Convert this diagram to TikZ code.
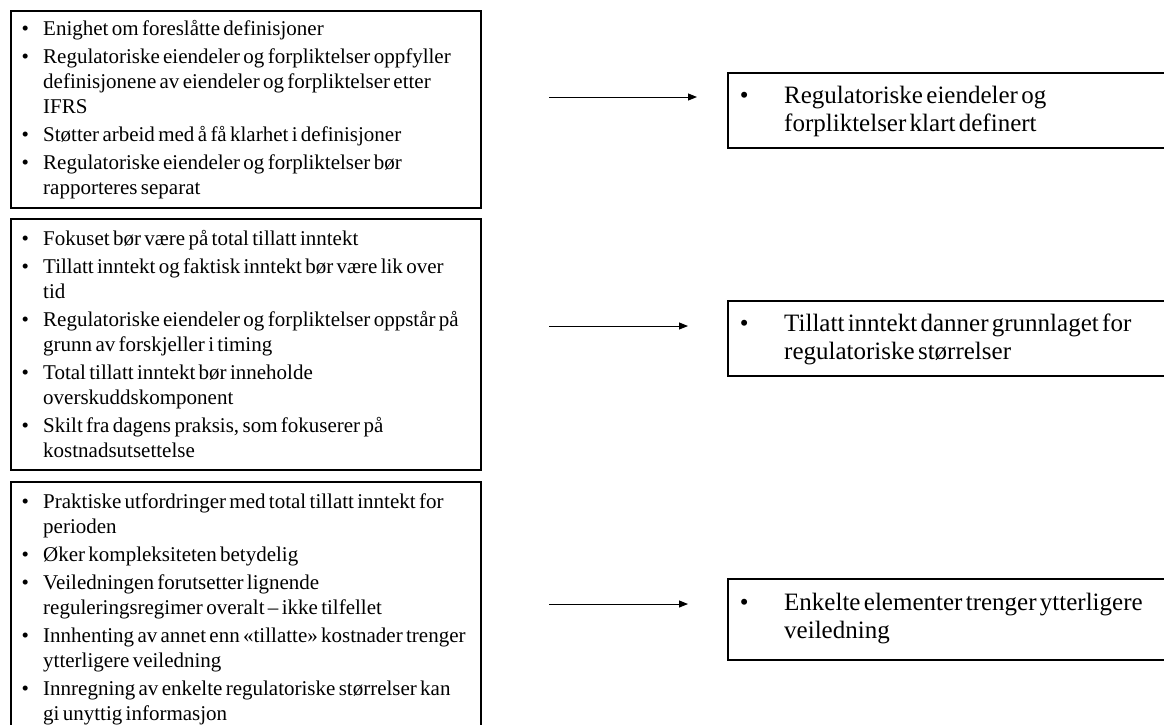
\documentclass[tikz,border=0pt]{standalone}
\usepackage{fontspec}
\setmainfont{Liberation Serif}
\usetikzlibrary{arrows.meta,calc}

\newlength{\bulpos}
\newlength{\bulind}
% one bulleted paragraph with hanging indent
\newcommand{\bitem}[1]{\hangindent=\bulind\hangafter=1\makebox[\bulind][l]{\hspace{\bulpos}\textbullet}#1\par}

\tikzset{
  frame/.style={draw=black, line width=1.5pt, fill=white, inner sep=0pt, anchor=north west},
  lefttext/.style={anchor=base west, inner sep=0pt, text width=465pt,
    execute at begin node={\fontsize{21}{25}\selectfont\setlength{\parskip}{3pt}%
      \setlength{\bulpos}{11.3pt}\setlength{\bulind}{33pt}}},
  righttext/.style={anchor=base west, inner sep=0pt, text width=470pt,
    execute at begin node={\fontsize{25}{28.5}\selectfont\setlength{\parskip}{0pt}%
      \setlength{\bulpos}{12.6pt}\setlength{\bulind}{57pt}}},
  arr/.style={line width=1pt, -{Triangle[length=9pt,width=7pt]}}
}

\begin{document}
\begin{tikzpicture}[x=1pt, y=-1pt]
\useasboundingbox (0,0) rectangle (1164,724);
\fill[white] (0,0) rectangle (1164,724);
\clip (0,0) rectangle (1164,724);

% left column: arguments
\node[frame, minimum width=470pt, minimum height=197pt] (L1) at (10,10) {};
\node[frame, minimum width=470pt, minimum height=251pt] (L2) at (10,218) {};
\node[frame, minimum width=470pt, minimum height=270pt] (L3) at (10,481) {};

\node[lefttext] (LT1) at (10,35) {%
\bitem{Enighet om foreslåtte definisjoner}%
\bitem{Regulatoriske eiendeler og forpliktelser oppfyller\newline definisjonene av eiendeler og forpliktelser etter\newline IFRS}%
\bitem{Støtter arbeid med å få klarhet i definisjoner}%
\bitem{Regulatoriske eiendeler og forpliktelser bør\newline rapporteres separat}};

\node[lefttext] (LT2) at (10,245) {%
\bitem{Fokuset bør være på total tillatt inntekt}%
\bitem{Tillatt inntekt og faktisk inntekt bør være lik over\newline tid}%
\bitem{Regulatoriske eiendeler og forpliktelser oppstår på\newline grunn av forskjeller i timing}%
\bitem{Total tillatt inntekt bør inneholde\newline overskuddskomponent}%
\bitem{Skilt fra dagens praksis, som fokuserer på\newline kostnadsutsettelse}};

\node[lefttext] (LT3) at (10,508) {%
\bitem{Praktiske utfordringer med total tillatt inntekt for\newline perioden}%
\bitem{Øker kompleksiteten betydelig}%
\bitem{Veiledningen forutsetter lignende\newline reguleringsregimer overalt – ikke tilfellet}%
\bitem{Innhenting av annet enn «tillatte» kostnader trenger\newline ytterligere veiledning}%
\bitem{Innregning av enkelte regulatoriske størrelser kan\newline gi unyttig informasjon}};

% right column: conclusions
\node[frame, minimum width=480pt, minimum height=75pt] (R1) at (727,72) {};
\node[frame, minimum width=480pt, minimum height=75pt] (R2) at (727,300) {};
\node[frame, minimum width=480pt, minimum height=81pt] (R3) at (727,578) {};

\node[righttext] (RT1) at (727,103) {%
\bitem{Regulatoriske eiendeler og\newline forpliktelser klart definert}};
\node[righttext] (RT2) at (727,331) {%
\bitem{Tillatt inntekt danner grunnlaget for\newline regulatoriske størrelser}};
\node[righttext] (RT3) at (727,610) {%
\bitem{Enkelte elementer trenger ytterligere\newline veiledning}};

% arrows
\coordinate (a1) at (549,97);
\coordinate (a2) at (549,326);
\coordinate (a3) at (549,604);
\coordinate (e1) at ($(R1.west |- a1)+(-30,0)$);
\coordinate (e2) at ($(R2.west |- a2)+(-39,0)$);
\coordinate (e3) at ($(R3.west |- a3)+(-39,0)$);
\draw[arr] (a1) -- (e1);
\draw[arr] (a2) -- (e2);
\draw[arr] (a3) -- (e3);
\end{tikzpicture}
\end{document}
